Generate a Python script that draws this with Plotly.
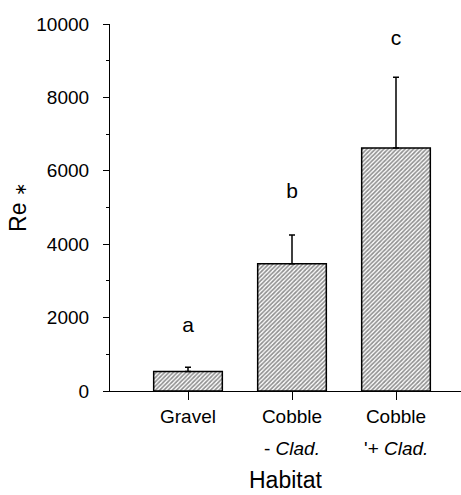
import plotly.graph_objects as go

categories = ["Gravel", "Cobble - Clad.", "Cobble + Clad."]
tick_labels = ["Gravel", "Cobble", "Cobble"]
sub_labels = ["", "- <i>Clad.</i>", "'+ <i>Clad.</i>"]
means = [530, 3470, 6620]
err_up = [120, 780, 1930]
letters = ["a", "b", "c"]
letter_y = [1750, 5400, 9580]
y_ticks = [0, 2000, 4000, 6000, 8000, 10000]

FONT = "Liberation Sans, Arial, sans-serif"

fig = go.Figure()
fig.add_trace(go.Bar(
    x=categories, y=means, width=0.66,
    marker=dict(color="white",
                line=dict(color="black", width=1.5),
                pattern=dict(shape="/", fgcolor="#222222", bgcolor="white",
                             size=3, solidity=0.55)),
    error_y=dict(type="data", symmetric=False, array=err_up,
                 arrayminus=[0, 0, 0], color="black", thickness=1.5, width=3),
    showlegend=False,
))
fig.add_trace(go.Scatter(
    x=categories, y=letter_y, mode="text", text=letters,
    textfont=dict(family=FONT, size=21, color="black"),
    showlegend=False, hoverinfo="skip",
))

for c, s in zip(categories, sub_labels):
    if s:
        fig.add_annotation(x=c, y=0, xref="x", yref="y", text=s,
                           showarrow=False, yshift=-57,
                           font=dict(family=FONT, size=19, color="black"))

fig.add_annotation(x=0.5, y=-0.243, xref="paper", yref="paper",
                   text="Habitat", showarrow=False, yanchor="middle",
                   font=dict(family=FONT, size=23, color="black"))

fig.update_layout(
    width=461, height=495,
    margin=dict(l=110, r=0, t=24, b=104),
    paper_bgcolor="white", plot_bgcolor="white",
    font=dict(family=FONT, size=19, color="black"),
)
fig.update_xaxes(
    range=[-0.75, 2.625], tickmode="array",
    tickvals=categories, ticktext=tick_labels,
    ticks="outside", ticklen=8, tickwidth=1, tickcolor="black",
    showline=True, linecolor="black", linewidth=1.2, showgrid=False,
    tickfont=dict(family=FONT, size=19),
)
fig.update_yaxes(
    range=[0, 10000], tickmode="array", tickvals=y_ticks,
    ticktext=[str(v) for v in y_ticks],
    ticks="outside", ticklen=6, tickwidth=1, tickcolor="black",
    ticklabelstandoff=10,
    minor=dict(dtick=1000, ticks="outside", ticklen=3, tickcolor="black"),
    showline=True, linecolor="black", linewidth=1.2, showgrid=False,
    zeroline=False,
    tickfont=dict(family=FONT, size=19),
    title=dict(text="Re <span style='font-size:16px'>∗</span>",
               font=dict(family=FONT, size=23), standoff=3),
)

fig.write_html("out.html")
